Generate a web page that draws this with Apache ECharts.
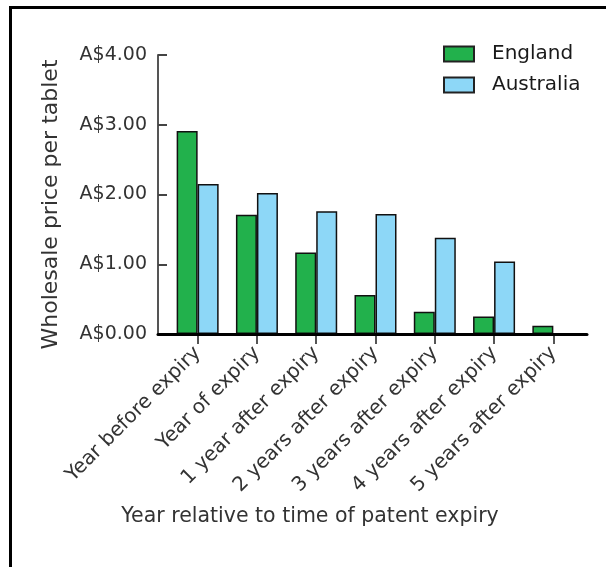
<!DOCTYPE html>
<html>
<head>
<meta charset="utf-8">
<script src="https://cdn.jsdelivr.net/npm/echarts@6/dist/echarts.min.js"></script>
<style>
  html, body { margin: 0; padding: 0; background: #fff; }
  #frame { position: absolute; left: 9px; top: 6px; width: 600px; height: 600px; border-left: 3px solid #000; border-top: 3px solid #000; box-sizing: border-box; }
  #chart { position: absolute; left: 0; top: 0; width: 606px; height: 567px; }
</style>
</head>
<body>
<div id="frame"></div>
<div id="chart"></div>
<script>
const categories = ["Year before expiry", "Year of expiry", "1 year after expiry", "2 years after expiry", "3 years after expiry", "4 years after expiry", "5 years after expiry"];
const england = [2.91, 1.71, 1.17, 0.56, 0.32, 0.25, 0.12];
const australia = [2.15, 2.02, 1.76, 1.72, 1.38, 1.04, null];
const yTicks = [0, 1, 2, 3, 4];

const FONT = "DejaVu Sans";
const chart = echarts.init(document.getElementById('chart'), null, { renderer: 'canvas' });

chart.setOption({
  animation: false,
  backgroundColor: 'transparent',
  textStyle: { fontFamily: FONT },
  grid: [
    { left: 168, right: 23, top: 55, bottom: 233 },
    { left: 158, right: 19, top: 55, bottom: 233 }
  ],
  legend: {
    orient: 'vertical',
    left: 443,
    top: 44,
    padding: 0,
    itemWidth: 30,
    itemHeight: 15,
    itemGap: 11,
    icon: 'rect',
    itemStyle: { borderColor: '#222', borderWidth: 2 },
    textStyle: { fontFamily: FONT, fontSize: 20, color: '#1a1a1a', padding: [0, 0, 0, 13] },
    data: ['England', 'Australia']
  },
  xAxis: [
    {
      gridIndex: 0,
      type: 'category',
      data: categories,
      axisLine: { show: false },
      axisTick: { show: true, alignWithLabel: true, length: 10, lineStyle: { color: '#555', width: 2 } },
      axisLabel: { rotate: 45, fontSize: 20, color: '#333', margin: 16, fontFamily: FONT, interval: 0 },
      name: 'Year relative to time of patent expiry',
      nameLocation: 'middle',
      nameGap: 172,
      nameTextStyle: { fontSize: 20.5, color: '#333', fontFamily: FONT, padding: [0, 131, 0, 0] }
    },
    {
      gridIndex: 1,
      type: 'value',
      min: 0, max: 1,
      z: 5,
      axisLine: { show: true, onZero: false, lineStyle: { color: '#000', width: 3 } },
      axisTick: { show: false },
      axisLabel: { show: false },
      splitLine: { show: false }
    }
  ],
  yAxis: [
    {
      gridIndex: 0,
      type: 'value',
      min: 0, max: 4, interval: 1,
      show: false,
      splitLine: { show: false }
    },
    {
      gridIndex: 1,
      type: 'value',
      min: yTicks[0], max: yTicks[yTicks.length - 1], interval: 1,
      axisLine: { show: true, lineStyle: { color: '#555', width: 2 } },
      axisTick: { show: true, inside: true, length: 9, lineStyle: { color: '#444', width: 2 } },
      axisLabel: { fontSize: 19, color: '#333', margin: 11, fontFamily: FONT, formatter: v => 'A$' + v.toFixed(2) },
      splitLine: { show: false },
      name: 'Wholesale price per tablet',
      nameLocation: 'middle',
      nameGap: 96,
      nameTextStyle: { fontSize: 22, color: '#333', fontFamily: FONT, padding: [0, 20, 0, 0] }
    }
  ],
  series: [
    {
      name: 'England', type: 'bar', xAxisIndex: 0, yAxisIndex: 0,
      data: england,
      barWidth: 21,
      barGap: '0%',
      itemStyle: { color: '#22b14c', borderColor: '#111', borderWidth: 1.5 }
    },
    {
      name: 'Australia', type: 'bar', xAxisIndex: 0, yAxisIndex: 0,
      data: australia,
      barWidth: 21,
      barGap: '0%',
      itemStyle: { color: '#8dd7f7', borderColor: '#111', borderWidth: 1.5 }
    }
  ]
});
</script>
</body>
</html>
